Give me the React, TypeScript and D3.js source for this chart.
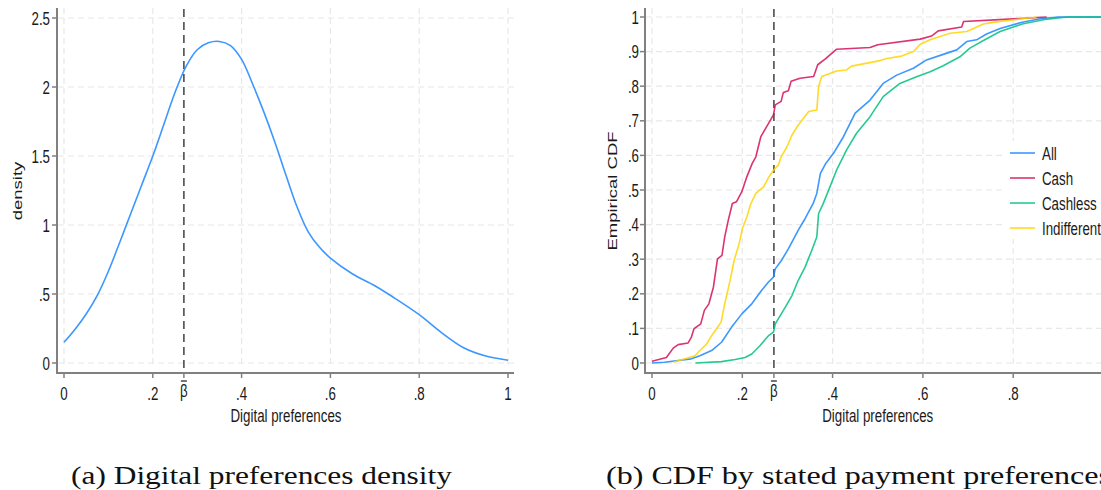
import React from "react";
import * as d3 from "d3";

// ---------- data ----------
const densityX = [0, 0.025, 0.05, 0.075, 0.1, 0.125, 0.15, 0.175, 0.2, 0.225, 0.25, 0.275, 0.3, 0.325, 0.35, 0.375, 0.4, 0.425, 0.45, 0.475, 0.5, 0.525, 0.55, 0.575, 0.6, 0.65, 0.7, 0.74, 0.8, 0.85, 0.9, 0.95, 1.0];
const densityY = [0.15, 0.245, 0.355, 0.49, 0.665, 0.87, 1.08, 1.29, 1.5, 1.73, 1.96, 2.15, 2.27, 2.32, 2.33, 2.3, 2.2, 2.02, 1.82, 1.6, 1.36, 1.13, 0.95, 0.84, 0.76, 0.645, 0.56, 0.48, 0.35, 0.22, 0.11, 0.05, 0.02];

const cdfAll: [number, number][] = [[0,0],[0.028,0.002],[0.058,0.007],[0.087,0.012],[0.106,0.021],[0.132,0.036],[0.154,0.06],[0.176,0.103],[0.199,0.142],[0.221,0.171],[0.243,0.21],[0.258,0.234],[0.269,0.248],[0.273,0.272],[0.287,0.297],[0.302,0.33],[0.324,0.384],[0.339,0.417],[0.357,0.461],[0.365,0.49],[0.373,0.548],[0.384,0.575],[0.402,0.606],[0.424,0.654],[0.45,0.722],[0.483,0.76],[0.512,0.808],[0.542,0.832],[0.579,0.852],[0.608,0.876],[0.645,0.892],[0.675,0.905],[0.697,0.929],[0.719,0.934],[0.741,0.951],[0.771,0.967],[0.82,0.985],[0.86,0.995],[0.9,1],[1,1]];
const cdfCash: [number, number][] = [[0,0.005],[0.032,0.016],[0.047,0.043],[0.058,0.053],[0.08,0.058],[0.087,0.074],[0.093,0.099],[0.108,0.113],[0.116,0.152],[0.126,0.171],[0.136,0.219],[0.145,0.301],[0.155,0.311],[0.161,0.364],[0.169,0.413],[0.178,0.461],[0.187,0.466],[0.199,0.495],[0.21,0.538],[0.222,0.577],[0.23,0.596],[0.241,0.654],[0.254,0.683],[0.269,0.717],[0.273,0.746],[0.286,0.756],[0.291,0.782],[0.302,0.787],[0.308,0.814],[0.328,0.823],[0.358,0.828],[0.367,0.862],[0.384,0.879],[0.409,0.907],[0.483,0.912],[0.5,0.92],[0.594,0.936],[0.619,0.945],[0.634,0.96],[0.686,0.971],[0.69,0.987],[0.78,0.993],[0.874,1.0]];
const cdfCashless: [number, number][] = [[0.096,0],[0.154,0.004],[0.184,0.01],[0.206,0.016],[0.221,0.026],[0.239,0.05],[0.258,0.079],[0.269,0.089],[0.273,0.113],[0.295,0.161],[0.31,0.195],[0.324,0.239],[0.339,0.277],[0.354,0.326],[0.365,0.364],[0.369,0.432],[0.379,0.46],[0.409,0.558],[0.431,0.616],[0.453,0.664],[0.483,0.712],[0.512,0.77],[0.549,0.808],[0.586,0.827],[0.616,0.842],[0.645,0.859],[0.682,0.885],[0.704,0.91],[0.734,0.932],[0.771,0.958],[0.82,0.98],[0.87,0.993],[0.92,1],[1,1]];
const cdfIndifferent: [number, number][] = [[0.047,0.002],[0.073,0.012],[0.095,0.021],[0.106,0.036],[0.121,0.055],[0.132,0.079],[0.143,0.099],[0.153,0.118],[0.161,0.171],[0.173,0.239],[0.182,0.297],[0.193,0.345],[0.2,0.388],[0.21,0.422],[0.219,0.461],[0.23,0.49],[0.247,0.509],[0.259,0.538],[0.269,0.557],[0.28,0.572],[0.286,0.596],[0.299,0.625],[0.31,0.659],[0.324,0.688],[0.347,0.727],[0.365,0.731],[0.369,0.799],[0.376,0.828],[0.409,0.844],[0.431,0.847],[0.442,0.858],[0.505,0.874],[0.52,0.88],[0.553,0.887],[0.579,0.9],[0.594,0.921],[0.616,0.934],[0.66,0.953],[0.697,0.958],[0.712,0.967],[0.734,0.98],[0.763,0.986],[0.852,1]];

const seriesNames = ["All", "Cash", "Cashless", "Indifferent"];
const seriesColors = ["#1a85ff", "#d41159", "#00bf7f", "#ffd400"];
const seriesData = [cdfAll, cdfCash, cdfCashless, cdfIndifferent];

const betaBar = 0.27;
const xTicksL = [0, 0.2, 0.4, 0.6, 0.8, 1];
const xTicksR = [0, 0.2, 0.4, 0.6, 0.8];
const yTicksL = [0, 0.5, 1, 1.5, 2, 2.5];
const yTicksR = [0, 0.1, 0.2, 0.3, 0.4, 0.5, 0.6, 0.7, 0.8, 0.9, 1];

const fmt = (v: number) => {
  const s = String(+v.toFixed(2));
  return s.startsWith("0.") ? s.slice(1) : s;
};

const FONT = "'Liberation Sans', Arial, sans-serif";
const FS = 18.5;
const SX = 0.72;

function T({ x, y, anchor = "middle", children, rotate = false }: any) {
  const tr = rotate
    ? `translate(${x},${y}) scale(${SX},1) rotate(-90)`
    : `translate(${x},${y}) scale(${SX},1)`;
  return (
    <text transform={tr} textAnchor={anchor} fontFamily={FONT} fontSize={FS} fill="#1a1a1a">
      {children}
    </text>
  );
}

const GRID = "#e8e8e8";
const AXIS = "#808080";

function Panel({ xs, ys, xTicks, yTicks, xRight, ylabel, yLabelX, tickLabelRight }: any) {
  const [y0, y1] = [373, 8];
  return (
    <g>
      {xTicks.map((t: number) => (
        <line key={"gx" + t} x1={xs(t)} x2={xs(t)} y1={y1} y2={368} stroke={GRID} strokeDasharray="6,4" strokeWidth={1.2} />
      ))}
      {yTicks.map((t: number) => (
        <line key={"gy" + t} x1={xs.range()[0] - 6} x2={xRight} y1={ys(t)} y2={ys(t)} stroke={GRID} strokeDasharray="6,4" strokeWidth={1.2} />
      ))}
      <line x1={xs.range()[0] - 7} x2={xs.range()[0] - 7} y1={y1} y2={y0 + 1} stroke={AXIS} strokeWidth={2} />
      <line x1={xs.range()[0] - 8} x2={xRight} y1={y0} y2={y0} stroke={AXIS} strokeWidth={2} />
      {xTicks.map((t: number) => (
        <g key={"xt" + t}>
          <line x1={xs(t)} x2={xs(t)} y1={y0} y2={y0 + 5} stroke={AXIS} strokeWidth={1.5} />
          <T x={xs(t)} y={400}>{fmt(t)}</T>
        </g>
      ))}
      {yTicks.map((t: number) => (
        <g key={"yt" + t}>
          <line x1={xs.range()[0] - 12} x2={xs.range()[0] - 7} y1={ys(t)} y2={ys(t)} stroke={AXIS} strokeWidth={1.5} />
          <T x={tickLabelRight} y={ys(t) + 6.6} anchor="end">{fmt(t)}</T>
        </g>
      ))}
      <line x1={xs(betaBar)} x2={xs(betaBar)} y1={9} y2={y0} stroke="#4d4d4d" strokeWidth={1.6} strokeDasharray="8,5" />
      <line x1={xs(betaBar)} x2={xs(betaBar)} y1={y0} y2={y0 + 5} stroke={AXIS} strokeWidth={1.5} />
      <T x={xs(betaBar)} y={397}>β</T>
      <line x1={xs(betaBar) - 3} x2={xs(betaBar) + 3} y1={381} y2={381} stroke="#1a1a1a" strokeWidth={1.2} />
      <T x={(xs(0) + xs(1)) / 2} y={422}>Digital preferences</T>
      <T x={yLabelX} y={191} rotate>{ylabel}</T>
    </g>
  );
}

export default function App() {
  const xL = d3.scaleLinear().domain([0, 1]).range([64, 508]);
  const yL = d3.scaleLinear().domain([0, 2.5]).range([363, 18]);
  const xR = d3.scaleLinear().domain([0, 1]).range([652, 1103.5]);
  const yR = d3.scaleLinear().domain([0, 1]).range([363, 17]);

  const densLine = d3
    .line<number>()
    .x((_, i) => xL(densityX[i]))
    .y((d) => yL(d))
    .curve(d3.curveCatmullRom.alpha(0.5));

  const cdfLine = d3
    .line<[number, number]>()
    .x((d) => xR(d[0]))
    .y((d) => yR(d[1]));

  return (
    <svg width={1101} height={490} style={{ position: "absolute", left: 0, top: 0, background: "#fff" }}>
      <rect width={1101} height={490} fill="#fff" />
      <Panel xs={xL} ys={yL} xTicks={xTicksL} yTicks={yTicksL} xRight={514} ylabel="density" yLabelX={22} tickLabelRight={50} />
      <path d={densLine(densityY) || ""} fill="none" stroke="#1a85ff" strokeWidth={1.6} strokeOpacity={0.85} />

      <Panel xs={xR} ys={yR} xTicks={xTicksR} yTicks={yTicksR} xRight={1110} ylabel="Empirical CDF" yLabelX={617} tickLabelRight={639} />
      {seriesData.map((s, i) => (
        <path key={seriesNames[i]} d={cdfLine(s) || ""} fill="none" stroke={seriesColors[i]} strokeWidth={1.6} strokeOpacity={0.85} strokeLinejoin="round" />
      ))}

      <rect x={1004} y={141} width={100} height={98} fill="#fff" />
      {seriesNames.map((n, i) => (
        <g key={"lg" + n}>
          <line x1={1010} x2={1035} y1={153 + i * 25} y2={153 + i * 25} stroke={seriesColors[i]} strokeWidth={1.6} strokeOpacity={0.85} />
          <T x={1042} y={153 + i * 25 + 6.6} anchor="start">{n}</T>
        </g>
      ))}

      <text x={71} y={484} fontFamily="'Liberation Serif', 'Times New Roman', serif" fontSize={25} textLength={381} lengthAdjust="spacingAndGlyphs" fill="#111">
        (a) Digital preferences density
      </text>
      <text x={606} y={484} fontFamily="'Liberation Serif', 'Times New Roman', serif" fontSize={25} textLength={505} lengthAdjust="spacingAndGlyphs" fill="#111">
        (b) CDF by stated payment preferences
      </text>
    </svg>
  );
}
